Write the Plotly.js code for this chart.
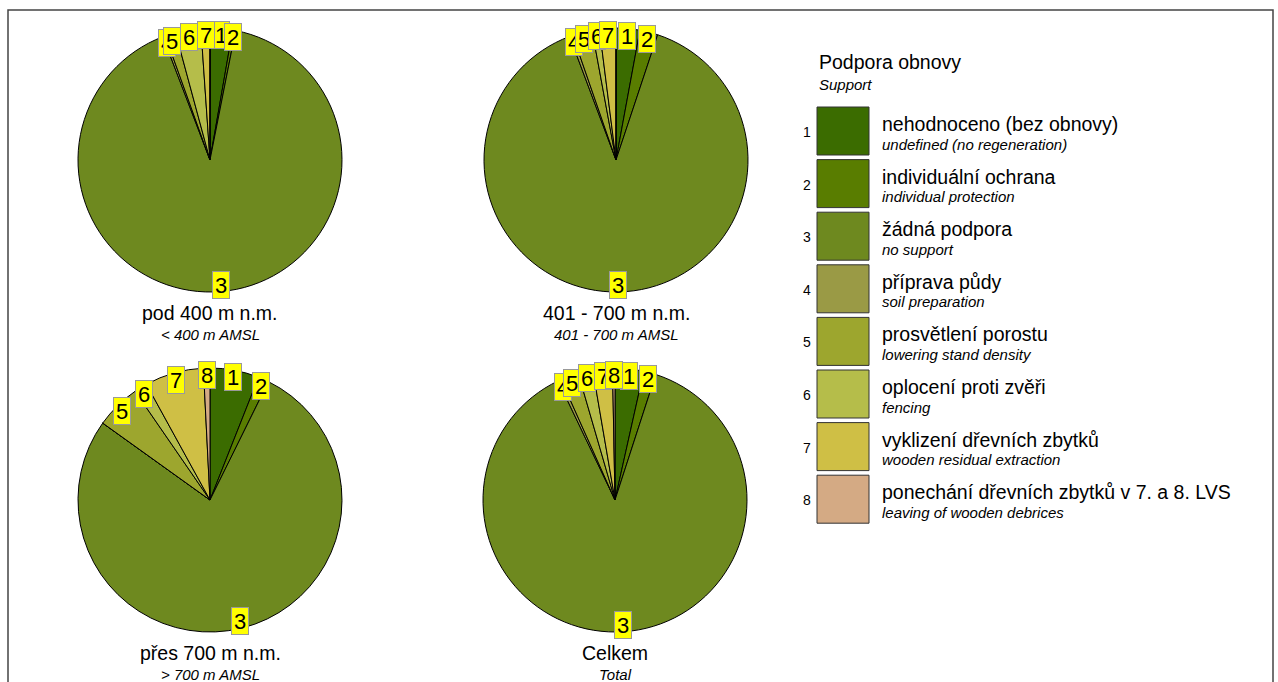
<!DOCTYPE html>
<html>
<head>
<meta charset="utf-8">
<script src="https://cdn.plot.ly/plotly-3.0.1.min.js"></script>
<style>html,body{margin:0;padding:0;background:#fff;}#chart{width:1278px;height:682px;}</style>
</head>
<body>
<div id="chart"></div>
<script>
// ---- data ----
const categories = ['1','2','3','4','5','6','7','8'];
const legendCz = ['nehodnoceno (bez obnovy)','individuální ochrana','žádná podpora','příprava půdy','prosvětlení porostu','oplocení proti zvěři','vyklizení dřevních zbytků','ponechání dřevních zbytků v 7. a 8. LVS'];
const legendEn = ['undefined (no regeneration)','individual protection','no support','soil preparation','lowering stand density','fencing','wooden residual extraction','leaving of wooden debrices'];
const colors = ['#3b6c00','#597d00','#6e891f','#9a9a45','#9da62e','#b5bd4a','#cfbf45','#d4aa84'];
const pieNames = ['pod 400 m n.m.','401 - 700 m n.m.','přes 700 m n.m.','Celkem'];
const pieSubs = ['< 400 m AMSL','401 - 700 m AMSL','> 700 m AMSL','Total'];
const valsPod400 = [2.75, 0.36, 91.1, 0.3, 1.3, 3.1, 1.1, 0];
const vals401to700 = [2.9, 2.2, 89.0, 0.4, 2.4, 0.9, 2.0, 0];
const valsNad700 = [6.0, 1.3, 77.6, 0, 5.5, 1.6, 7.2, 0.8];
const valsCelkem = [3.5, 1.5, 88.0, 0.4, 2.2, 1.8, 2.4, 0.3];
const legendTitle = 'Podpora obnovy';
const legendSubtitle = 'Support';

// ---- layout helpers ----
const W = 1278, H = 682;
const px = x => x / W;
const py = y => 1 - y / H;
const FONT = 'Liberation Sans, Arial, sans-serif';
const allVals = [valsPod400, vals401to700, valsNad700, valsCelkem];
const centers = [[210,160],[616,160],[210,500],[615,500]];
const RAD = 132, LABEL_R = 125;

const data = [];
const annotations = [];
const shapes = [];

allVals.forEach((vals, k) => {
  const [cx, cy] = centers[k];
  data.push({
    type: 'pie', values: vals, labels: categories, sort: false,
    direction: 'clockwise', rotation: 0, textinfo: 'none', showlegend: false,
    hovertemplate: '%{label}: %{value}<extra></extra>',
    marker: {colors: colors, line: {color: '#000', width: 1}},
    domain: {x: [px(cx - RAD), px(cx + RAD)], y: [py(cy + RAD), py(cy - RAD)]}
  });
  const total = vals.reduce((a, b) => a + b, 0);
  let cum = 0;
  vals.forEach((v, i) => {
    if (v > 0) {
      const mid = (cum + v / 2) / total * 2 * Math.PI;
      annotations.push({
        x: px(cx + LABEL_R * Math.sin(mid)), y: py(cy - LABEL_R * Math.cos(mid)),
        xref: 'paper', yref: 'paper', xanchor: 'center', yanchor: 'middle',
        text: categories[i], showarrow: false,
        bgcolor: '#ffff00', bordercolor: '#999999', borderwidth: 1, borderpad: 0,
        width: 16, height: 26, font: {family: FONT, size: 22, color: '#000'}
      });
    }
    cum += v;
  });
  annotations.push({x: px(cx), y: py(cy + RAD + 21), xref: 'paper', yref: 'paper', text: pieNames[k], showarrow: false, xanchor: 'center', yanchor: 'middle', font: {family: FONT, size: 19.5, color: '#000'}});
  annotations.push({x: px(cx), y: py(cy + RAD + 42), xref: 'paper', yref: 'paper', text: '<i>' + pieSubs[k] + '</i>', showarrow: false, xanchor: 'center', yanchor: 'middle', font: {family: FONT, size: 15, color: '#000'}});
});

// ---- manual legend ----
annotations.push({x: px(817), y: py(62), xref: 'paper', yref: 'paper', text: legendTitle, showarrow: false, xanchor: 'left', yanchor: 'middle', font: {family: FONT, size: 19.5, color: '#000'}});
annotations.push({x: px(817), y: py(84), xref: 'paper', yref: 'paper', text: '<i>' + legendSubtitle + '</i>', showarrow: false, xanchor: 'left', yanchor: 'middle', font: {family: FONT, size: 15, color: '#000'}});
categories.forEach((c, i) => {
  const top = 107 + i * 52.6;
  shapes.push({type: 'rect', xref: 'paper', yref: 'paper', x0: px(817), x1: px(869), y0: py(top + 48), y1: py(top), fillcolor: colors[i], line: {color: '#333', width: 1}});
  annotations.push({x: px(807), y: py(top + 25), xref: 'paper', yref: 'paper', text: c, showarrow: false, xanchor: 'center', yanchor: 'middle', font: {family: FONT, size: 14, color: '#000'}});
  annotations.push({x: px(880), y: py(top + 17), xref: 'paper', yref: 'paper', text: legendCz[i], showarrow: false, xanchor: 'left', yanchor: 'middle', font: {family: FONT, size: 19.5, color: '#000'}});
  annotations.push({x: px(880), y: py(top + 37), xref: 'paper', yref: 'paper', text: '<i>' + legendEn[i] + '</i>', showarrow: false, xanchor: 'left', yanchor: 'middle', font: {family: FONT, size: 15, color: '#000'}});
});

// frame
shapes.push({type: 'rect', xref: 'paper', yref: 'paper', x0: px(8), x1: px(1273), y0: py(720), y1: py(10), line: {color: '#444', width: 1.5}, fillcolor: 'rgba(0,0,0,0)'});

const layout = {
  width: W, height: H, margin: {l: 0, r: 0, t: 0, b: 0},
  paper_bgcolor: '#fff', plot_bgcolor: '#fff',
  font: {family: FONT, color: '#000'},
  annotations: annotations, shapes: shapes, showlegend: false
};
Plotly.newPlot('chart', data, layout, {displayModeBar: false});
</script>
</body>
</html>
